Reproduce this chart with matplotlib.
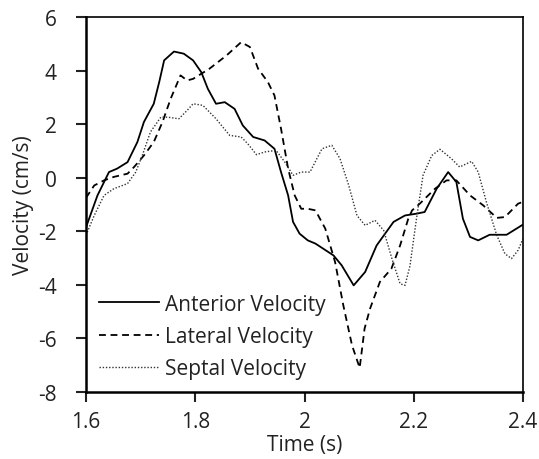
import matplotlib.pyplot as plt

plt.rcParams['font.family'] = ['Open Sans', 'DejaVu Sans']
plt.rcParams['axes.unicode_minus'] = False

# values
t_ant = [1.600, 1.621, 1.642, 1.657, 1.676, 1.694, 1.706, 1.724, 1.734, 1.743,
         1.761, 1.779, 1.796, 1.811, 1.823, 1.838, 1.854, 1.872, 1.887, 1.906,
         1.927, 1.945, 1.957, 1.970, 1.979, 1.991, 2.006, 2.020, 2.053, 2.068,
         2.090, 2.111, 2.132, 2.163, 2.184, 2.206, 2.220, 2.242, 2.263, 2.278,
         2.290, 2.303, 2.318, 2.339, 2.370, 2.400]
v_ant = [-1.85, -0.66, 0.21, 0.34, 0.58, 1.33, 2.08, 2.76, 3.57, 4.38,
         4.71, 4.63, 4.38, 3.94, 3.32, 2.76, 2.82, 2.57, 1.95, 1.52,
         1.39, 1.08, 0.21, -0.66, -1.65, -2.09, -2.34, -2.46, -2.90, -3.27,
         -4.02, -3.52, -2.53, -1.65, -1.41, -1.34, -1.28, -0.41, 0.21, -0.16,
         -1.53, -2.21, -2.34, -2.13, -2.13, -1.75]

t_lat = [1.600, 1.615, 1.633, 1.651, 1.676, 1.688, 1.706, 1.724, 1.740, 1.755,
         1.773, 1.785, 1.796, 1.826, 1.857, 1.884, 1.900, 1.915, 1.933, 1.945,
         1.957, 1.970, 1.982, 1.994, 2.006, 2.020, 2.038, 2.056, 2.071, 2.087,
         2.101, 2.110, 2.120, 2.138, 2.159, 2.175, 2.190, 2.197, 2.211, 2.239,
         2.260, 2.278, 2.303, 2.327, 2.352, 2.367, 2.391, 2.400]
v_lat = [-0.75, -0.29, -0.10, 0.03, 0.15, 0.40, 0.83, 1.33, 2.08, 2.95,
         3.82, 3.63, 3.69, 4.07, 4.56, 5.06, 4.88, 4.07, 3.57, 3.07,
         1.83, 0.34, -0.66, -1.16, -1.16, -1.22, -1.90, -3.15, -4.76, -6.26,
         -7.10, -5.63, -4.89, -3.89, -3.40, -2.53, -1.53, -1.22, -0.97, -0.41,
         -0.10, -0.10, -0.66, -1.03, -1.50, -1.47, -0.97, -0.90]

t_sep = [1.600, 1.615, 1.633, 1.651, 1.676, 1.691, 1.703, 1.718, 1.737, 1.749,
         1.770, 1.785, 1.796, 1.814, 1.838, 1.863, 1.884, 1.896, 1.912, 1.927,
         1.948, 1.964, 1.979, 1.994, 2.010, 2.032, 2.050, 2.065, 2.081, 2.096,
         2.111, 2.129, 2.145, 2.160, 2.175, 2.184, 2.193, 2.205, 2.217, 2.233,
         2.248, 2.269, 2.284, 2.306, 2.318, 2.333, 2.352, 2.367, 2.379, 2.391,
         2.400]
v_sep = [-2.15, -1.41, -0.66, -0.41, -0.22, 0.21, 0.83, 1.71, 2.26, 2.26,
         2.20, 2.51, 2.76, 2.70, 2.20, 1.58, 1.52, 1.27, 0.86, 0.96,
         1.02, 0.58, 0.09, 0.21, 0.21, 1.08, 1.21, 0.71, -0.29, -1.41,
         -1.78, -1.59, -1.97, -3.02, -3.96, -4.02, -3.30, -1.53, 0.09, 0.83,
         1.06, 0.71, 0.40, 0.61, 0.21, -0.91, -2.15, -2.84, -3.02, -2.71,
         -2.28]

x_ticks = [1.6, 1.8, 2.0, 2.2, 2.4]
x_labels = ['1.6', '1.8', '2', '2.2', '2.4']
y_ticks = [-8, -6, -4, -2, 0, 2, 4, 6]

fig = plt.figure(figsize=(5.39, 4.6), dpi=100)
ax = fig.add_axes([0.1596, 0.1457, 0.8107, 0.8152])

ax.plot(t_ant, v_ant, color='black', lw=1.3, ls='-', label='Anterior Velocity')
ax.plot(t_lat, v_lat, color='black', lw=1.3, ls=(0, (3.8, 2.6)), label='Lateral Velocity')
ax.plot(t_sep, v_sep, color='#333333', lw=1.0, ls=(0, (1, 1.3)), label='Septal Velocity')

ax.set_xlim(1.6, 2.4)
ax.set_ylim(-8, 6)
ax.set_xticks(x_ticks)
ax.set_xticklabels(x_labels)
ax.set_yticks(y_ticks)
ax.tick_params(direction='out', length=7, width=1.5, labelsize=15, colors='#222222')
ax.tick_params(axis='y', pad=14)
ax.tick_params(axis='x', pad=7)

for side in ['left', 'bottom']:
    ax.spines[side].set_linewidth(1.8)
for side in ['top', 'right']:
    ax.spines[side].set_linewidth(1.2)

ax.set_xlabel('Time (s)', fontsize=15, labelpad=1, color='#222222')
ax.set_ylabel('Velocity (cm/s)', fontsize=15, labelpad=3, color='#222222')

leg = ax.legend(loc='lower left', frameon=False, fontsize=15, handlelength=2.9,
                handletextpad=0.3, labelspacing=0.55, bbox_to_anchor=(0.0, 0.0),
                borderaxespad=0.2, borderpad=0.4)
for txt in leg.get_texts():
    txt.set_color('#222222')

fig.savefig('out.png', dpi=100)
